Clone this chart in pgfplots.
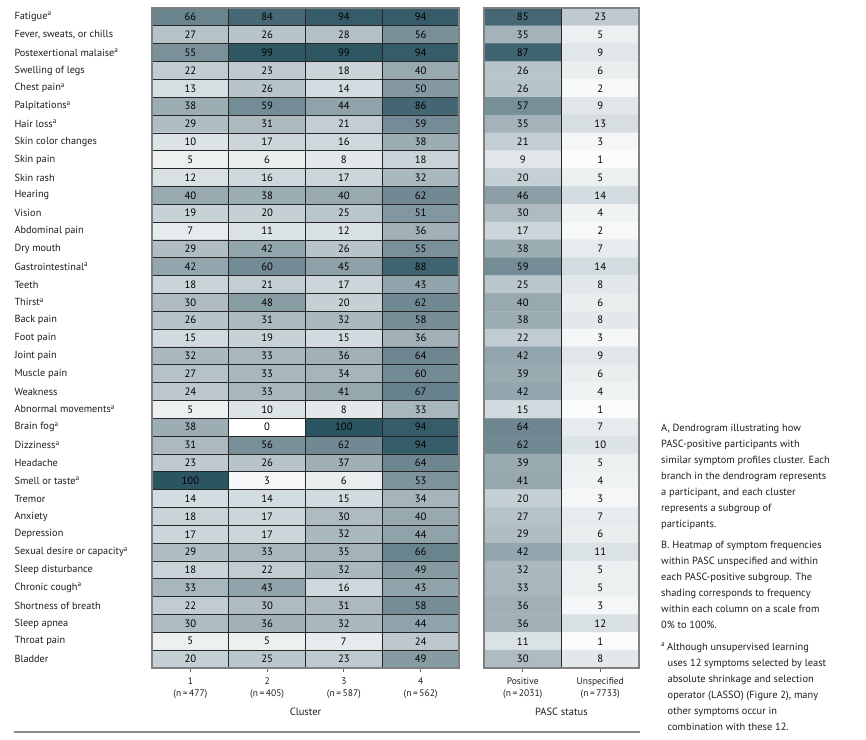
\documentclass[border=0pt]{standalone}
\usepackage{pgfplots}
\pgfplotsset{compat=1.18}
\usepackage{pgfplotstable}
\usepackage{fontspec}
\setmainfont{PT Sans}
\definecolor{textc}{RGB}{30,28,29}
\definecolor{numdark}{RGB}{40,40,40}

\pgfplotstableread[row sep=\\]{
x y v\\
0 0 66\\ 1 0 84\\ 2 0 94\\ 3 0 94\\
0 1 27\\ 1 1 26\\ 2 1 28\\ 3 1 56\\
0 2 55\\ 1 2 99\\ 2 2 99\\ 3 2 94\\
0 3 22\\ 1 3 23\\ 2 3 18\\ 3 3 40\\
0 4 13\\ 1 4 26\\ 2 4 14\\ 3 4 50\\
0 5 38\\ 1 5 59\\ 2 5 44\\ 3 5 86\\
0 6 29\\ 1 6 31\\ 2 6 21\\ 3 6 59\\
0 7 10\\ 1 7 17\\ 2 7 16\\ 3 7 38\\
0 8 5\\ 1 8 6\\ 2 8 8\\ 3 8 18\\
0 9 12\\ 1 9 16\\ 2 9 17\\ 3 9 32\\
0 10 40\\ 1 10 38\\ 2 10 40\\ 3 10 62\\
0 11 19\\ 1 11 20\\ 2 11 25\\ 3 11 51\\
0 12 7\\ 1 12 11\\ 2 12 12\\ 3 12 36\\
0 13 29\\ 1 13 42\\ 2 13 26\\ 3 13 55\\
0 14 42\\ 1 14 60\\ 2 14 45\\ 3 14 88\\
0 15 18\\ 1 15 21\\ 2 15 17\\ 3 15 43\\
0 16 30\\ 1 16 48\\ 2 16 20\\ 3 16 62\\
0 17 26\\ 1 17 31\\ 2 17 32\\ 3 17 58\\
0 18 15\\ 1 18 19\\ 2 18 15\\ 3 18 36\\
0 19 32\\ 1 19 33\\ 2 19 36\\ 3 19 64\\
0 20 27\\ 1 20 33\\ 2 20 34\\ 3 20 60\\
0 21 24\\ 1 21 33\\ 2 21 41\\ 3 21 67\\
0 22 5\\ 1 22 10\\ 2 22 8\\ 3 22 33\\
0 23 38\\ 1 23 0\\ 2 23 100\\ 3 23 94\\
0 24 31\\ 1 24 56\\ 2 24 62\\ 3 24 94\\
0 25 23\\ 1 25 26\\ 2 25 37\\ 3 25 64\\
0 26 100\\ 1 26 3\\ 2 26 6\\ 3 26 53\\
0 27 14\\ 1 27 14\\ 2 27 15\\ 3 27 34\\
0 28 18\\ 1 28 17\\ 2 28 30\\ 3 28 40\\
0 29 17\\ 1 29 17\\ 2 29 32\\ 3 29 44\\
0 30 29\\ 1 30 33\\ 2 30 35\\ 3 30 66\\
0 31 18\\ 1 31 22\\ 2 31 32\\ 3 31 49\\
0 32 33\\ 1 32 43\\ 2 32 16\\ 3 32 43\\
0 33 22\\ 1 33 30\\ 2 33 31\\ 3 33 58\\
0 34 30\\ 1 34 36\\ 2 34 32\\ 3 34 44\\
0 35 5\\ 1 35 5\\ 2 35 7\\ 3 35 24\\
0 36 20\\ 1 36 25\\ 2 36 23\\ 3 36 49\\
}\clusters

\pgfplotstableread[row sep=\\]{
x y v\\
0 0 85\\ 1 0 23\\
0 1 35\\ 1 1 5\\
0 2 87\\ 1 2 9\\
0 3 26\\ 1 3 6\\
0 4 26\\ 1 4 2\\
0 5 57\\ 1 5 9\\
0 6 35\\ 1 6 13\\
0 7 21\\ 1 7 3\\
0 8 9\\ 1 8 1\\
0 9 20\\ 1 9 5\\
0 10 46\\ 1 10 14\\
0 11 30\\ 1 11 4\\
0 12 17\\ 1 12 2\\
0 13 38\\ 1 13 7\\
0 14 59\\ 1 14 14\\
0 15 25\\ 1 15 8\\
0 16 40\\ 1 16 6\\
0 17 38\\ 1 17 8\\
0 18 22\\ 1 18 3\\
0 19 42\\ 1 19 9\\
0 20 39\\ 1 20 6\\
0 21 42\\ 1 21 4\\
0 22 15\\ 1 22 1\\
0 23 64\\ 1 23 7\\
0 24 62\\ 1 24 10\\
0 25 39\\ 1 25 5\\
0 26 41\\ 1 26 4\\
0 27 20\\ 1 27 3\\
0 28 27\\ 1 28 7\\
0 29 29\\ 1 29 6\\
0 30 42\\ 1 30 11\\
0 31 32\\ 1 31 5\\
0 32 33\\ 1 32 5\\
0 33 36\\ 1 33 3\\
0 34 36\\ 1 34 12\\
0 35 11\\ 1 35 1\\
0 36 30\\ 1 36 8\\
}\pasc

\pgfplotsset{
  heatbase/.style={
    scale only axis, height=660pt,
    ymin=-0.5, ymax=36.5, y dir=reverse,
    tick align=outside, major tick length=4pt,
    xtick pos=bottom, ytick pos=left,
    ytick style={draw=none},
    xtick style={draw=black!60, line width=0.8pt},
    minor ytick={0.5,1.5,...,35.5}, minor tick length=0pt,
    xminorgrids=true, yminorgrids=true,
    minor grid style={draw=black!85, line width=0.7pt},
    axis line style={draw=black!50, line width=1.2pt},
    axis on top,
    colormap={jama}{rgb255(0cm)=(255,255,255); rgb255(0.5cm)=(236,240,241); rgb255(1cm)=(221,228,231); rgb255(2.2cm)=(192,204,209); rgb255(4cm)=(152,169,176); rgb255(5.5cm)=(122,145,153); rgb255(6.6cm)=(106,132,142); rgb255(8.4cm)=(70,104,116); rgb255(10cm)=(44,85,98)},
    colormap={txt}{rgb255(0cm)=(40,40,40); rgb255(7.5cm)=(40,40,40); rgb255(7.6cm)=(255,255,255); rgb255(10cm)=(255,255,255)},
    colormap name=jama,
    point meta min=0, point meta max=100,
    xticklabel style={align=center, font=\fontsize{9.5}{12}\selectfont, text=textc, yshift=-2pt},
    xlabel style={font=\fontsize{10.5}{12}\selectfont, text=textc, yshift=-3pt},
  },
  cellnums/.style={
    colormap name=txt,
    scatter, only marks, mark=text, text mark={},
    scatter/use mapped color={draw=none, fill=none},
    point meta=explicit,
    nodes near coords={\pgfmathprintnumber[assume math mode=true]{\pgfplotspointmeta}},
    every node near coord/.append style={anchor=center, inner sep=0pt, text=mapped color, font=\fontsize{10.7}{12}\selectfont},
  },
}

\begin{document}
\begin{tikzpicture}
\useasboundingbox (0pt,0pt) rectangle (866pt,-739pt);

\begin{axis}[heatbase,
  at={(152pt,-668pt)}, anchor=south west, width=307pt,
  xmin=-0.5, xmax=3.5,
  xtick={0,1,2,3},
  xticklabels={{1\\(n\,=\,477)},{2\\(n\,=\,405)},{3\\(n\,=\,587)},{4\\(n\,=\,562)}},
  minor xtick={0.5,1.5,2.5},
  ytick={0,...,36},
  yticklabels={
    {Fatigue\textsuperscript{a}},
    {Fever, sweats, or chills},
    {Postexertional malaise\textsuperscript{a}},
    {Swelling of legs},
    {Chest pain\textsuperscript{a}},
    {Palpitations\textsuperscript{a}},
    {Hair loss\textsuperscript{a}},
    {Skin color changes},
    {Skin pain},
    {Skin rash},
    {Hearing},
    {Vision},
    {Abdominal pain},
    {Dry mouth},
    {Gastrointestinal\textsuperscript{a}},
    {Teeth},
    {Thirst\textsuperscript{a}},
    {Back pain},
    {Foot pain},
    {Joint pain},
    {Muscle pain},
    {Weakness},
    {Abnormal movements\textsuperscript{a}},
    {Brain fog\textsuperscript{a}},
    {Dizziness\textsuperscript{a}},
    {Headache},
    {Smell or taste\textsuperscript{a}},
    {Tremor},
    {Anxiety},
    {Depression},
    {Sexual desire or capacity\textsuperscript{a}},
    {Sleep disturbance},
    {Chronic cough\textsuperscript{a}},
    {Shortness of breath},
    {Sleep apnea},
    {Throat pain},
    {Bladder}},
  yticklabel style={anchor=west, xshift=-137pt, font=\fontsize{10.3}{12}\selectfont, text=textc},
  xlabel={Cluster},
]
\addplot[matrix plot*, mesh/cols=4, point meta=explicit] table[x=x, y=y, meta=v]{\clusters};
\addplot[cellnums] table[x=x, y=y, meta=v]{\clusters};
\end{axis}

\begin{axis}[heatbase,
  at={(484pt,-668pt)}, anchor=south west, width=155pt,
  xmin=-0.5, xmax=1.5,
  xtick={0,1},
  xticklabels={{Positive\\(n\,=\,2031)},{Unspecified\\(n\,=\,7733)}},
  minor xtick={0.5},
  ytick=\empty,
  xlabel={PASC status},
]
\addplot[matrix plot*, mesh/cols=2, point meta=explicit] table[x=x, y=y, meta=v]{\pasc};
\addplot[cellnums] table[x=x, y=y, meta=v]{\pasc};
\end{axis}

\draw[black!45, line width=1.5pt] (14pt,-732pt) -- (640pt,-732pt);

\node[anchor=north west, align=left, inner sep=0pt, text=textc,
      font=\fontsize{10.4}{16}\selectfont] at (661pt,-424pt) {%
A, Dendrogram illustrating how\\
PASC-positive participants with\\
similar symptom profiles cluster. Each\\
branch in the dendrogram represents\\
a participant, and each cluster\\
represents a subgroup of\\
participants.\\[5pt]
B. Heatmap of symptom frequencies\\
within PASC unspecified and within\\
each PASC-positive subgroup. The\\
shading corresponds to frequency\\
within each column on a scale from\\
0\% to 100\%.\\[6pt]
\textsuperscript{a}\,Although unsupervised learning\\
\hspace*{6.5pt}uses 12 symptoms selected by least\\
\hspace*{6.5pt}absolute shrinkage and selection\\
\hspace*{6.5pt}operator (LASSO) (Figure 2), many\\
\hspace*{6.5pt}other symptoms occur in\\
\hspace*{6.5pt}combination with these 12.};
\end{tikzpicture}
\end{document}
